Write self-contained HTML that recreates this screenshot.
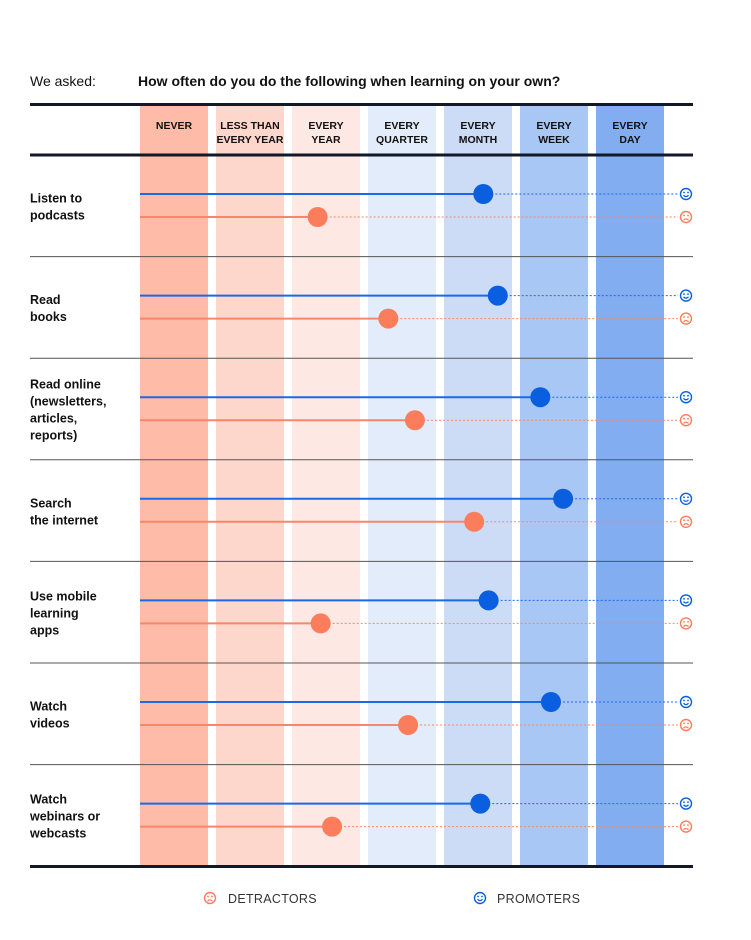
<!DOCTYPE html>
<html><head><meta charset="utf-8"><style>
body{margin:0;background:#fff;width:751px;height:935px;overflow:hidden;font-family:"Liberation Sans",sans-serif}
svg text{font-family:"Liberation Sans",sans-serif}
</style></head><body>
<svg id="c" width="751" height="935"></svg>
<script>
const categories=["NEVER","LESS THAN|EVERY YEAR","EVERY|YEAR","EVERY|QUARTER","EVERY|MONTH","EVERY|WEEK","EVERY|DAY"];
const rows=["Listen to|podcasts","Read|books","Read online|(newsletters,|articles,|reports)","Search|the internet","Use mobile|learning|apps","Watch|videos","Watch|webinars or|webcasts"];
const promoters=[4.07,4.26,4.82,5.12,4.14,4.96,4.03];
const detractors=[1.89,2.82,3.17,3.95,1.93,3.08,2.08];
const colColors=["#fdbba8","#fdd6cc","#fee8e3","#e3ecfa","#ccdcf6","#a9c7f4","#82adf0"];
const NS="http://www.w3.org/2000/svg";
const svg=document.getElementById('c');
function el(t,a,p){const e=document.createElementNS(NS,t);for(const k in a)e.setAttribute(k,a[k]);(p||svg).appendChild(e);return e;}
const x=v=>174+v*76;
const rowTop=i=>155+i*101.6;
let t=el('text',{x:30,y:86,'font-size':14,fill:'#111'});t.textContent='We asked:';


t=el('text',{x:138,y:86,'font-size':14,'font-weight':'bold',fill:'#111'});t.textContent='How often do you do the following when learning on your own?';


categories.forEach((c,i)=>{
  const r=el('rect',{x:x(i)-34,y:104,width:68,height:762,fill:colColors[i]});
  
  
  const parts=c.split('|');
  parts.forEach((p,j)=>{
    const tx=el('text',{x:x(i),y:(parts.length==1?129:129+j*14),'font-size':10.5,'font-weight':'bold','text-anchor':'middle',fill:'#111'});
    tx.textContent=p;
    
    
  });
});
let l=el('line',{x1:30,x2:693,y1:104.5,y2:104.5,stroke:'#111827','stroke-width':3});


l=el('line',{x1:30,x2:693,y1:155,y2:155,stroke:'#111827','stroke-width':3});


function face(cx,cy,col,happy){
  const g=el('g',{});
  el('circle',{cx,cy,r:5.5,fill:'none',stroke:col,'stroke-width':1.4},g);
  el('circle',{cx:cx-2,cy:cy-1.5,r:0.9,fill:col},g);
  el('circle',{cx:cx+2,cy:cy-1.5,r:0.9,fill:col},g);
  el('path',{d:happy?`M${cx-2.5} ${cy+1.2} Q${cx} ${cy+4} ${cx+2.5} ${cy+1.2}`:`M${cx-2.5} ${cy+3.2} Q${cx} ${cy+0.6} ${cx+2.5} ${cy+3.2}`,fill:'none',stroke:col,'stroke-width':1.3},g);
  return g;
}
rows.forEach((r,i)=>{
  const top=rowTop(i);
  const parts=r.split('|');
  const start=top+56-(parts.length-1)*8.5;
  parts.forEach((p,j)=>{
    const tx=el('text',{x:30,y:start+j*17,'font-size':12.5,'font-weight':'bold',fill:'#111'});
    tx.textContent=p;
    
    
  });
  if(i<rows.length-1){
    const s=el('line',{x1:30,x2:693,y1:top+101.6,y2:top+101.6,stroke:'#555','stroke-width':1});
    
    
  }
  [[promoters[i],top+39,'#1a6ae8','#0a5fe0',true,'promoter'],[detractors[i],top+62,'#f7866a','#fb7d5c',false,'detractor']].forEach(([v,y,lc,dc,h,n])=>{
    el('line',{x1:x(v),x2:678,y1:y,y2:y,stroke:lc,'stroke-width':1,'stroke-dasharray':'2 2'});
    const ln=el('line',{x1:140,x2:x(v),y1:y,y2:y,stroke:lc,'stroke-width':2});
    
    
    const d=el('circle',{cx:x(v),cy:y,r:10,fill:dc});
    
    
    const f=face(686,y,dc,h);
    
    
  });
});
l=el('line',{x1:30,x2:693,y1:866.5,y2:866.5,stroke:'#111827','stroke-width':3});


let g=face(210,898,'#fb7d5c',false);


t=el('text',{x:228,y:903,'font-size':12.5,fill:'#333','letter-spacing':'0.3'});t.textContent='DETRACTORS';


g=face(480,898,'#0a5fe0',true);


t=el('text',{x:497,y:903,'font-size':12.5,fill:'#333','letter-spacing':'0.3'});t.textContent='PROMOTERS';


</script>
</body></html>
